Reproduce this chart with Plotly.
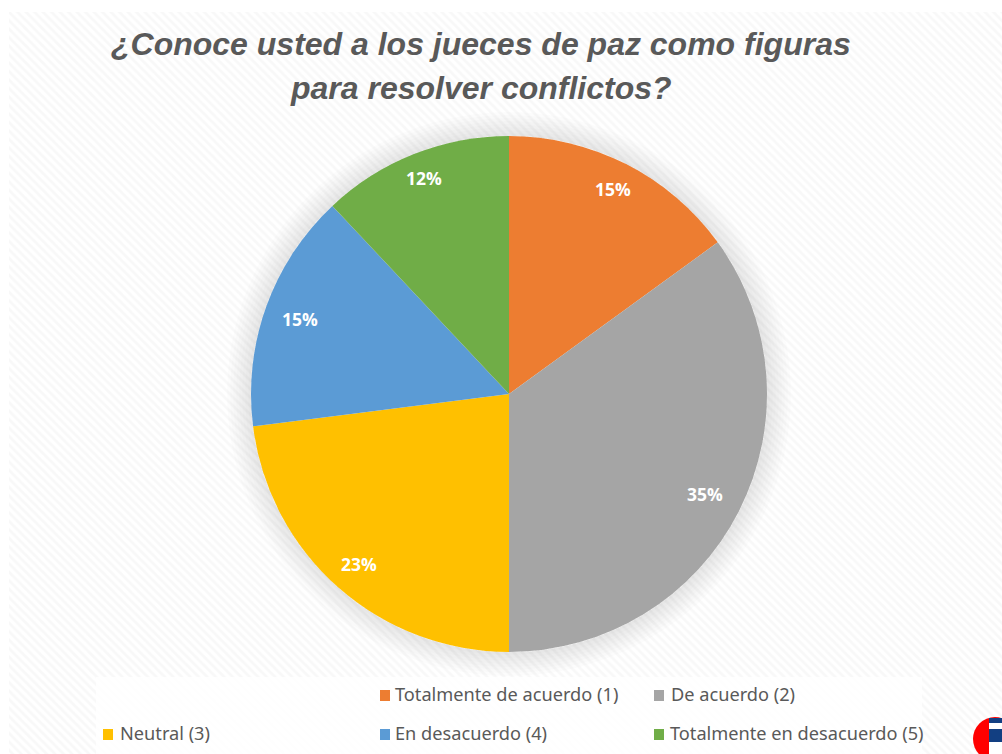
#!/usr/bin/env python3
import numpy as np
import plotly.graph_objects as go

W, H = 1002, 754

title_lines = ["¿Conoce usted a los jueces de paz como figuras", "para resolver conflictos?"]
labels = ["Totalmente de acuerdo (1)", "De acuerdo (2)", "Neutral (3)", "En desacuerdo (4)", "Totalmente en desacuerdo (5)"]
values = [15, 35, 23, 15, 12]
colors = ["#ED7D31", "#A5A5A5", "#FFC000", "#5B9BD5", "#70AD47"]

# legend layout from the picture: swatch x, text x, row y (px)
legend_swatch_x = [380, 654, 103, 380, 654]
legend_text_x = [393, 669, 118, 393, 668]
legend_y = [694, 694, 733, 733, 733]

cx, cy, R = 509, 394, 258
# Excel moved each percent label a bit, so the distance from the centre differs per slice
label_r = [230, 220, 227, 222, 232]


def px(x):
    return x / W


def py(y):
    return 1 - y / H


def circle_path(r):
    t = np.linspace(0, 2 * np.pi, 120)
    pts = [f"{px(cx + r * np.cos(a)):.5f},{py(cy + r * np.sin(a)):.5f}" for a in t]
    return "M" + " L".join(pts) + " Z"


fig = go.Figure()

# hatched page background, on a hidden 0-1 axis
fig.add_trace(go.Bar(
    x=[0.5], y=[1], width=[1],
    marker=dict(color="#ffffff", line_width=0,
                pattern=dict(shape="\\", fgcolor="#f1f1f1", bgcolor="#ffffff", size=6, solidity=0.45)),
    hoverinfo="skip", showlegend=False,
))

fig.add_trace(go.Pie(
    labels=labels, values=values, sort=False, direction="clockwise", rotation=0,
    marker=dict(colors=colors, line_width=0),
    textinfo="none", showlegend=False,
    domain=dict(x=[px(cx - R), px(cx + R)], y=[py(cy + R), py(cy - R)]),
))

shapes = []
# soft halo round the pie
for r in range(R + 3, R + 27, 3):
    shapes.append(dict(type="path", xref="paper", yref="paper", layer="above", line_width=0,
                       fillcolor="rgba(0,0,0,0.012)", fillrule="evenodd",
                       path=circle_path(r) + " " + circle_path(R)))

# pale box behind the legend
shapes.append(dict(type="rect", xref="paper", yref="paper", layer="above", line_width=0,
                   x0=px(96), x1=px(922), y0=0, y1=py(677), fillcolor="rgba(255,255,255,0.82)"))

annotations = []
for i, line in enumerate(title_lines):
    annotations.append(dict(text=line, xref="paper", yref="paper", x=px(481), y=py(44 + 44 * i),
                            showarrow=False, xanchor="center", yanchor="middle",
                            font=dict(family="Liberation Sans", size=32, color="#595959", weight="bold", style="italic")))

# percent labels follow the middle of each slice
cum = np.cumsum([0] + values)
total = sum(values)
for i, v in enumerate(values):
    ang = 2 * np.pi * (cum[i] + v / 2) / total
    annotations.append(dict(text=f"{v}%", xref="paper", yref="paper",
                            x=px(cx + label_r[i] * np.sin(ang)), y=py(cy - label_r[i] * np.cos(ang)),
                            showarrow=False, xanchor="center", yanchor="middle",
                            font=dict(family="Open Sans", size=17.5, color="#ffffff", weight="bold")))

# legend, Excel leaves the first cell of the top row empty
for i, lab in enumerate(labels):
    s = legend_swatch_x[i]
    y = legend_y[i]
    shapes.append(dict(type="rect", xref="paper", yref="paper", layer="above", line_width=0,
                       x0=px(s), x1=px(s + 10), y0=py(y + 7), y1=py(y - 4), fillcolor=colors[i]))
    annotations.append(dict(text=lab, xref="paper", yref="paper", x=px(legend_text_x[i]), y=py(y),
                            showarrow=False, xanchor="left", yanchor="middle",
                            font=dict(family="Noto Sans", size=18.2, color="#595959")))

# cut-off logo in the corner
shapes.append(dict(type="circle", xref="paper", yref="paper", layer="above", line_width=0,
                   x0=px(973), x1=px(1017), y0=py(761), y1=py(717), fillcolor="#ff0000"))
shapes.append(dict(type="rect", xref="paper", yref="paper", layer="above", line_width=0,
                   x0=px(989), x1=1, y0=0, y1=py(718), fillcolor="#ffffff"))
shapes.append(dict(type="rect", xref="paper", yref="paper", layer="above", line_width=0,
                   x0=px(989), x1=1, y0=py(742), y1=py(729), fillcolor="#123f82"))
shapes.append(dict(type="rect", xref="paper", yref="paper", layer="above", line_width=0,
                   x0=px(989), x1=1, y0=py(723), y1=py(718), fillcolor="#123f82"))

fig.update_layout(
    width=W, height=H,
    margin=dict(l=0, r=0, t=0, b=0),
    paper_bgcolor="#ffffff",
    plot_bgcolor="#ffffff",
    xaxis=dict(domain=[px(9), 1], range=[0, 1], visible=False, fixedrange=True),
    yaxis=dict(domain=[0, py(12)], range=[0, 1], visible=False, fixedrange=True),
    shapes=shapes,
    annotations=annotations,
)

# drop the browser's default body margin so the figure fills the window
fig.write_html("out.html", config=dict(displayModeBar=False),
               post_script="document.body.style.margin='0';document.body.style.overflow='hidden';")
